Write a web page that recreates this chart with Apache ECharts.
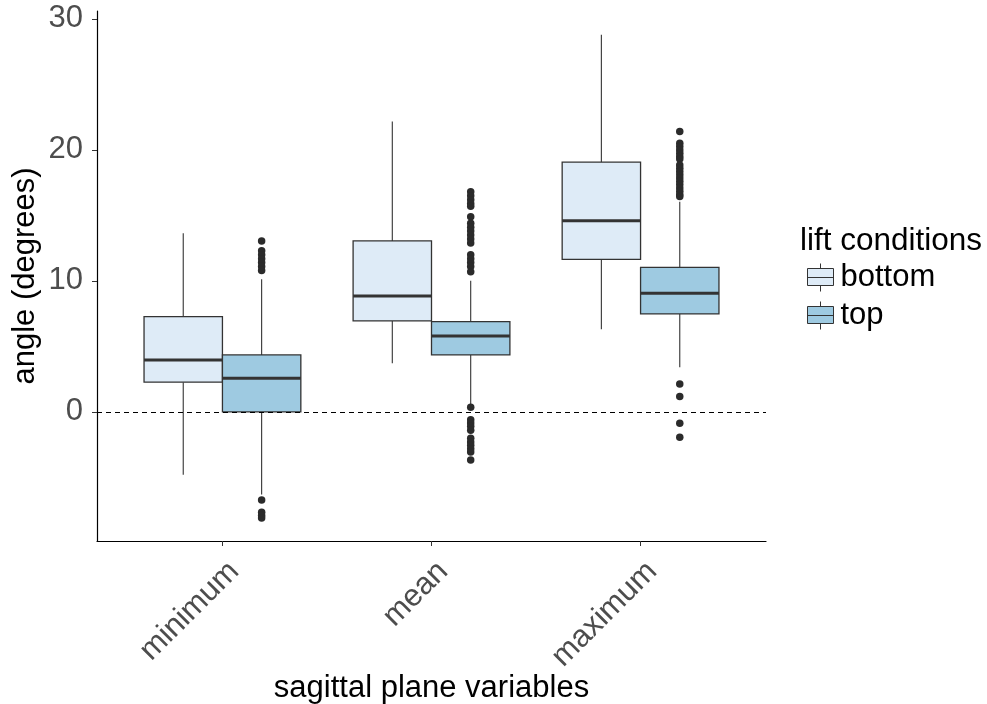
<!DOCTYPE html>
<html>
<head>
<meta charset="utf-8">
<script src="https://cdn.jsdelivr.net/npm/echarts@6/dist/echarts.min.js"></script>
<style>
html,body{margin:0;padding:0;background:#fff;}
#chart{width:987px;height:704px;}
</style>
</head>
<body>
<div id="chart"></div>
<script>
// ---- data ----
const categories = ['minimum', 'mean', 'maximum'];
const conditions = ['bottom', 'top'];
const yTicks = [0, 10, 20, 30];
// [lower whisker, Q1, median, Q3, upper whisker]
const bottomStats = [
  [-4.8, 2.27, 3.97, 7.27, 13.64],
  [3.72, 6.95, 8.85, 13.05, 22.16],
  [6.31, 11.65, 14.6, 19.06, 28.78]
];
const topStats = [
  [-6.3, 0.0, 2.57, 4.35, 10.13],
  [0.5, 4.35, 5.8, 6.9, 10.02],
  [3.41, 7.48, 9.06, 11.04, 16.05]
];
const bottomOutliers = [[], [], []];
const topOutliers = [
  [13.05, 12.3, 12.0, 11.7, 11.4, 11.1, 10.8, -6.72, -7.65, -7.9, -8.1],
  [16.8, 16.5, 16.2, 15.9, 15.7, 14.9, 14.4, 14.1, 13.8, 13.5, 13.2, 12.9,
   12.0, 11.7, 11.4, 11.1, 10.7, 0.35, -0.6, -0.85, -1.1, -1.4, -2.0, -2.3, -2.55, -2.8, -3.05, -3.66],
  [21.4, 20.5, 20.25, 20.0, 19.75, 19.5, 19.3, 18.85, 18.6, 18.35, 18.1, 17.85, 17.6, 17.35,
   17.1, 16.85, 16.6, 16.45, 2.14, 1.17, -0.86, -1.93]
];
const fills = ['#deebf7', '#9ecae1'];

// ---- layout helpers ----
const HALF = 0.1875;           // half box width in x units
const DODGE = [-HALF, HALF];   // dodge offset for each condition
const FONT = "'Liberation Sans', Arial, sans-serif";

function boxData(stats) {
  return stats.map((s, i) => [i + 1].concat(s));
}
function outlierData(list, offset) {
  const out = [];
  list.forEach((vals, i) => vals.forEach(v => out.push([i + 1 + offset, v])));
  return out;
}
function makeRenderItem(offset) {
  return function (params, api) {
    const x = api.value(0) + offset;
    const lo = api.value(1), q1 = api.value(2), med = api.value(3), q3 = api.value(4), hi = api.value(5);
    const tl = api.coord([x - HALF, q3]);
    const br = api.coord([x + HALF, q1]);
    const mL = api.coord([x - HALF, med]);
    const mR = api.coord([x + HALF, med]);
    const wHi = api.coord([x, hi]);
    const wQ3 = api.coord([x, q3]);
    const wQ1 = api.coord([x, q1]);
    const wLo = api.coord([x, lo]);
    const color = api.visual('color');
    return {
      type: 'group',
      children: [
        { type: 'line', shape: { x1: wHi[0], y1: wHi[1], x2: wQ3[0], y2: wQ3[1] }, style: { stroke: '#333', lineWidth: 1.1 } },
        { type: 'line', shape: { x1: wQ1[0], y1: wQ1[1], x2: wLo[0], y2: wLo[1] }, style: { stroke: '#333', lineWidth: 1.1 } },
        { type: 'rect', shape: { x: tl[0], y: tl[1], width: br[0] - tl[0], height: br[1] - tl[1] }, style: { fill: color, stroke: '#333', lineWidth: 1.3 } },
        { type: 'line', shape: { x1: mL[0], y1: mL[1], x2: mR[0], y2: mR[1] }, style: { stroke: '#333', lineWidth: 3 } }
      ]
    };
  };
}

const iconPath = 'path://M0,5L26,5L26,22L0,22Z M13,0L13,5 M13,22L13,28 M0,14L26,14';

const series = [];
const statsList = [bottomStats, topStats];
const outList = [bottomOutliers, topOutliers];
conditions.forEach((c, k) => {
  series.push({
    name: c,
    type: 'custom',
    renderItem: makeRenderItem(DODGE[k]),
    itemStyle: { color: fills[k] },
    encode: { x: 0, y: [1, 2, 3, 4, 5] },
    data: boxData(statsList[k]),
    z: 2
  });
});
conditions.forEach((c, k) => {
  series.push({
    name: c + ' outliers',
    type: 'scatter',
    symbol: 'circle',
    symbolSize: 7.5,
    itemStyle: { color: '#2b2b2b', opacity: 1 },
    data: outlierData(outList[k], DODGE[k]),
    silent: true,
    z: 3
  });
});
// dashed reference line at 0
series.push({
  name: 'zero',
  type: 'line',
  data: [],
  markLine: {
    silent: true,
    symbol: 'none',
    label: { show: false },
    lineStyle: { color: '#000', type: [5, 4], width: 1.1 },
    data: [{ yAxis: 0 }]
  },
  z: 4
});

const chart = echarts.init(document.getElementById('chart'));
chart.setOption({
  animation: false,
  backgroundColor: '#fff',
  textStyle: { fontFamily: FONT },
  title: {
    text: 'lift conditions',
    left: 800,
    top: 225,
    padding: 0,
    textStyle: { fontFamily: FONT, fontSize: 31.5, fontWeight: 'normal', color: '#000' }
  },
  legend: {
    data: conditions.map((c, k) => ({
      name: c,
      icon: iconPath,
      itemStyle: { color: fills[k], borderColor: '#333', borderWidth: 1 }
    })),
    orient: 'vertical',
    left: 807,
    top: 262,
    padding: 0,
    itemWidth: 26,
    itemHeight: 28,
    itemGap: 7,
    selectedMode: false,
    textStyle: { fontFamily: FONT, fontSize: 31, color: '#000', padding: [0, 0, 0, 2] }
  },
  grid: { left: 97, right: 221, top: 11, bottom: 163, containLabel: false, outerBoundsMode: 'none' },
  xAxis: {
    type: 'value',
    min: 0.4,
    max: 3.6,
    name: 'sagittal plane variables',
    nameLocation: 'middle',
    nameGap: 132,
    nameMoveOverlap: false,
    nameTextStyle: { fontFamily: FONT, fontSize: 31, color: '#000' },
    axisLine: { show: true, onZero: false, lineStyle: { color: '#000', width: 1.2 } },
    axisTick: { show: true, customValues: [1, 2, 3], length: 5, lineStyle: { color: '#333' } },
    axisLabel: {
      customValues: [1, 2, 3],
      formatter: v => categories[Math.round(v) - 1] || '',
      rotate: 45,
      align: 'right',
      verticalAlign: 'top',
      padding: [1, 0, 0, 0],
      margin: 14,
      fontFamily: FONT,
      fontSize: 31,
      color: '#4d4d4d'
    },
    splitLine: { show: false }
  },
  yAxis: {
    type: 'value',
    min: -9.85,
    max: 30.6,
    name: 'angle (degrees)',
    nameLocation: 'middle',
    nameGap: 56,
    nameMoveOverlap: false,
    nameTextStyle: { fontFamily: FONT, fontSize: 31, color: '#000' },
    axisLine: { show: true, onZero: false, lineStyle: { color: '#000', width: 1.2 } },
    axisTick: { show: true, customValues: yTicks, length: 5, lineStyle: { color: '#333' } },
    axisLabel: {
      customValues: yTicks,
      margin: 14,
      fontFamily: FONT,
      fontSize: 31,
      color: '#4d4d4d'
    },
    splitLine: { show: false }
  },
  series: series
});
</script>
</body>
</html>
